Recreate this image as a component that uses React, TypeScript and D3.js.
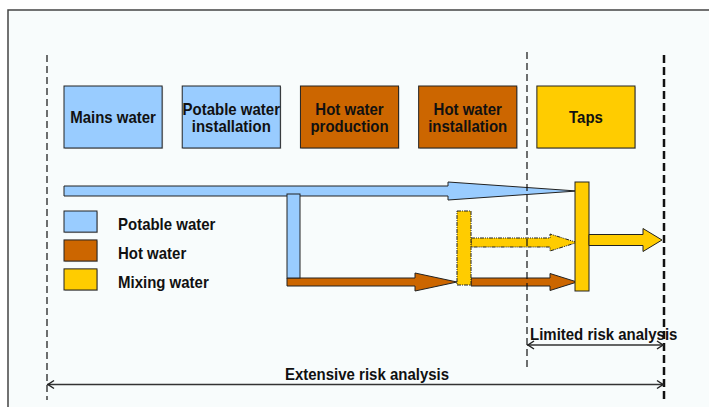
import * as d3 from "d3";

// Process stages shown as boxes across the top
const stages = [
  "Mains water",
  "Potable water\ninstallation",
  "Hot water\nproduction",
  "Hot water\ninstallation",
  "Taps",
];
const stageKinds = ["potable", "potable", "hot", "hot", "mixing"];

// Legend
const legendKeys = ["potable", "hot", "mixing"];
const legendLabels = ["Potable water", "Hot water", "Mixing water"];
const kindColor: Record<string, string> = {
  potable: "#99ccff",
  hot: "#cc6600",
  mixing: "#ffcc00",
};

// Analysis ranges (bottom dimension arrows)
const rangeLabels = ["Limited risk analysis", "Extensive risk analysis"];

const W = 709;
const H = 407;
const FONT = "'Liberation Sans', Arial, sans-serif";

// arrow polygon: from x0 to tip, head starts at hx
function arrowPath(x0: number, hx: number, tip: number, cy: number, sh: number, hh: number) {
  const p = d3.path();
  p.moveTo(x0, cy - sh);
  p.lineTo(hx, cy - sh);
  p.lineTo(hx, cy - hh);
  p.lineTo(tip, cy);
  p.lineTo(hx, cy + hh);
  p.lineTo(hx, cy + sh);
  p.lineTo(x0, cy + sh);
  p.closePath();
  return p.toString();
}

// bold label, slightly stretched vertically like the source
function Label({ x, y, anchor = "start", children }: { x: number; y: number; anchor?: string; children: string }) {
  return (
    <text
      transform={`translate(${x},${y}) scale(1,1.1)`}
      textAnchor={anchor as "start" | "middle"}
      fontSize={15}
      fontWeight="bold"
      fill="#111"
    >
      {children}
    </text>
  );
}

export default function App() {
  const x = d3.scaleBand<string>().domain(stages).range([64, 635]).paddingInner(0.17);
  const boxTop = 86;
  const boxH = 62;

  const legendY = d3.scaleBand<string>().domain(legendKeys).range([211, 290]).paddingInner(0.27);

  // guide x positions
  const xLeft = 47;
  const xMid = 527;
  const xRight = 664;

  const stroke = "#222";

  return (
    <svg
      width={W}
      height={H}
      style={{ position: "absolute", left: 0, top: 0, fontFamily: FONT }}
    >
      <rect x={0} y={0} width={W} height={H} fill="#ffffff" />
      <rect x={8} y={10} width={W + 20} height={H + 20} fill="#f8fcfc" stroke="#444" strokeWidth={1.5} />

      {/* stage boxes */}
      {stages.map((s, i) => {
        const bx = x(s)!;
        const lines = s.split("\n");
        const cx = bx + x.bandwidth() / 2;
        const cy = boxTop + boxH / 2;
        return (
          <g key={s}>
            <rect x={bx + 1} y={boxTop + 1} width={x.bandwidth()} height={boxH} fill="#9a9a9a" opacity={0.5} />
            <rect x={bx} y={boxTop} width={x.bandwidth()} height={boxH} fill={kindColor[stageKinds[i]]} stroke={stroke} strokeWidth={1} />
            {lines.map((l, j) => (
              <Label key={j} x={cx} y={cy + 6 + (j - (lines.length - 1) / 2) * 17} anchor="middle">
                {l}
              </Label>
            ))}
          </g>
        );
      })}

      {/* legend */}
      {legendKeys.map((k, i) => {
        const y = legendY(k)!;
        return (
          <g key={k}>
            <rect x={65} y={y + 1} width={33} height={legendY.bandwidth()} fill="#9a9a9a" opacity={0.5} />
            <rect x={64} y={y} width={33} height={legendY.bandwidth()} fill={kindColor[k]} stroke={stroke} strokeWidth={1} />
            <Label x={118} y={y + legendY.bandwidth() / 2 + 8.5}>
              {legendLabels[i]}
            </Label>
          </g>
        );
      })}

      {/* main potable water arrow */}
      <path d={arrowPath(64, 448, 577, 191, 5, 9)} fill={kindColor.potable} stroke={stroke} strokeWidth={1} />
      {/* hot water to hot installation */}
      <path d={arrowPath(287, 415, 457, 282, 4, 9)} fill={kindColor.hot} stroke={stroke} strokeWidth={1} />
      {/* branch to hot water production */}
      <rect x={287} y={194} width={13} height={84} fill={kindColor.potable} stroke={stroke} strokeWidth={1} />
      {/* mixing (dotted) arrow */}
      <path
        d={arrowPath(471, 550, 577, 242.5, 4.5, 8.5)}
        fill={kindColor.mixing}
        stroke={stroke}
        strokeWidth={1}
        strokeDasharray="4,1,1,1,1,1"
      />
      {/* hot water to taps */}
      <path d={arrowPath(471, 550, 577, 282, 4, 8.5)} fill={kindColor.hot} stroke={stroke} strokeWidth={1} />
      {/* mixing valve (dashed) */}
      <rect
        x={457}
        y={211}
        width={14}
        height={74}
        fill={kindColor.mixing}
        stroke={stroke}
        strokeWidth={1}
        strokeDasharray="4,1,1,1"
      />
      {/* taps bar */}
      <rect x={575} y={182} width={14} height={109} fill={kindColor.mixing} stroke={stroke} strokeWidth={1} />
      {/* outgoing mixed water */}
      <path d={arrowPath(589, 643, 662, 240, 5.5, 11.5)} fill={kindColor.mixing} stroke={stroke} strokeWidth={1} />

      {/* guide lines */}
      <line x1={xLeft} x2={xLeft} y1={55} y2={400} stroke="#111" strokeWidth={1.2} strokeDasharray="7,4" />
      <line x1={xMid} x2={xMid} y1={52} y2={367} stroke="#111" strokeWidth={1.2} strokeDasharray="7,4" />
      <line x1={xRight} x2={xRight} y1={55} y2={400} stroke="#111" strokeWidth={2.5} strokeDasharray="8,4" />

      {/* range arrows */}
      {[
        { a: xMid, b: xRight, y: 345, label: rangeLabels[0], lx: 530, anchor: "start" },
        { a: xLeft, b: xRight, y: 384.5, label: rangeLabels[1], lx: 367, anchor: "middle" },
      ].map((r) => (
        <g key={r.label}>
          <line x1={r.a} x2={r.b} y1={r.y} y2={r.y} stroke="#333" strokeWidth={1.5} />
          <path d={`M${r.a + 7},${r.y - 4} L${r.a + 1},${r.y} L${r.a + 7},${r.y + 4}`} fill="none" stroke="#222" strokeWidth={1.5} />
          <path d={`M${r.b - 7},${r.y - 4} L${r.b - 1},${r.y} L${r.b - 7},${r.y + 4}`} fill="none" stroke="#222" strokeWidth={1.5} />
          <Label x={r.lx} y={r.y - 5} anchor={r.anchor}>
            {r.label}
          </Label>
        </g>
      ))}
    </svg>
  );
}
